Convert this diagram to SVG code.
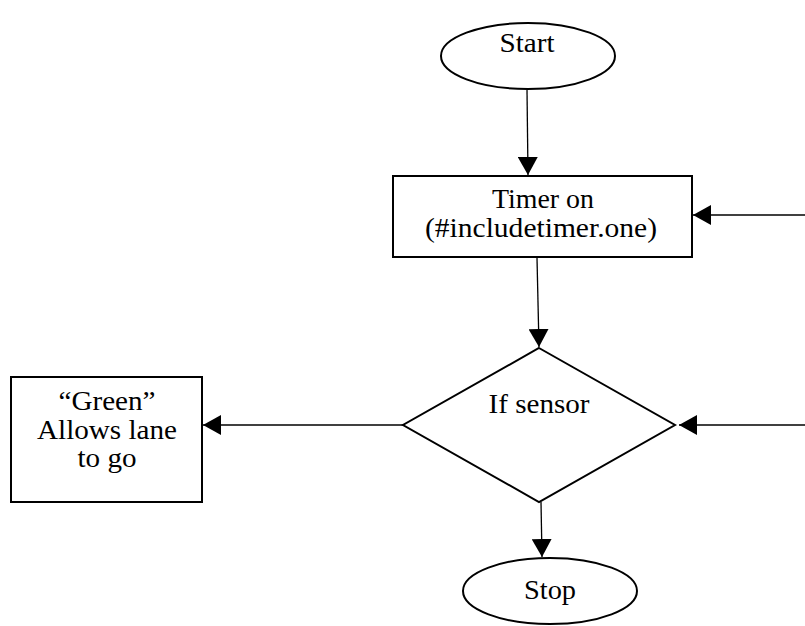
<svg xmlns="http://www.w3.org/2000/svg" width="805" height="626" viewBox="0 0 805 626">
<style>
.shape{fill:#fff;stroke:#000;stroke-width:2}
.conn{stroke:#000;stroke-width:1.3;fill:none;marker-end:url(#ah)}
text{font-family:"Liberation Serif","Times New Roman",serif;font-size:28px;fill:#000;text-anchor:middle}
</style>
<defs>
<marker id="ah" markerUnits="userSpaceOnUse" markerWidth="19" markerHeight="20" refX="18" refY="10" orient="auto" viewBox="0 0 19 20">
<path d="M0,0 L18,10 L0,20 Z" fill="#000"/>
</marker>
</defs>
<rect width="805" height="626" fill="#fff"/>
<g id="connectors">
<line class="conn" x1="527" y1="90" x2="528" y2="175"/>
<line class="conn" x1="805" y1="215" x2="693" y2="215"/>
<line class="conn" x1="537" y1="258" x2="539" y2="347"/>
<line class="conn" x1="805" y1="425" x2="679" y2="425"/>
<line class="conn" x1="403" y1="425" x2="203" y2="425"/>
<line class="conn" x1="541" y1="502" x2="542" y2="557"/>
</g>
<g id="start">
<ellipse class="shape" cx="528" cy="56" rx="87" ry="33"/>
<text x="527" y="52" textLength="55" lengthAdjust="spacingAndGlyphs">Start</text>
</g>
<g id="timer">
<rect class="shape" x="393" y="176" width="299" height="81"/>
<text x="543" y="208" textLength="102" lengthAdjust="spacingAndGlyphs">Timer on</text>
<text x="541" y="237" textLength="232" lengthAdjust="spacingAndGlyphs">(#includetimer.one)</text>
</g>
<g id="sensor">
<polygon class="shape" points="539,348 675,425 539,502 403,425"/>
<text x="539" y="413" textLength="101" lengthAdjust="spacingAndGlyphs">If sensor</text>
</g>
<g id="green">
<rect class="shape" x="11" y="377" width="191" height="125"/>
<text x="107" y="410" textLength="97" lengthAdjust="spacingAndGlyphs">“Green”</text>
<text x="107" y="439" textLength="140" lengthAdjust="spacingAndGlyphs">Allows lane</text>
<text x="107" y="467" textLength="59" lengthAdjust="spacingAndGlyphs">to go</text>
</g>
<g id="stop">
<ellipse class="shape" cx="550" cy="591" rx="87" ry="33"/>
<text x="550" y="599" textLength="52" lengthAdjust="spacingAndGlyphs">Stop</text>
</g>
</svg>
